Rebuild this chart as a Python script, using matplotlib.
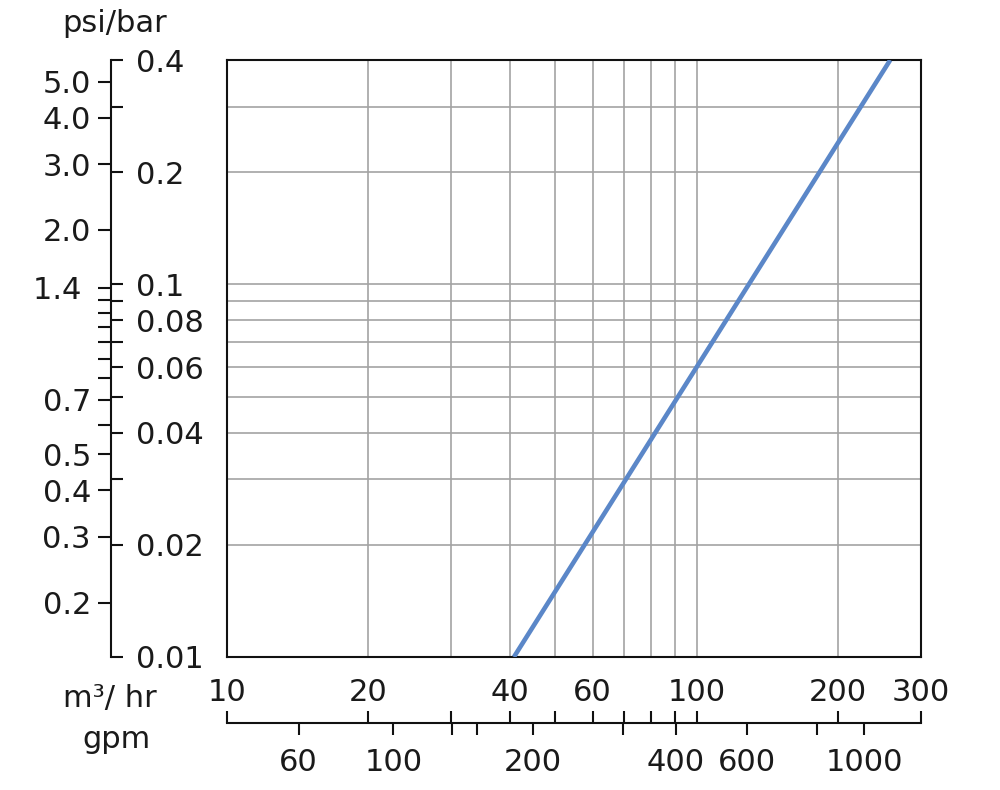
import matplotlib
matplotlib.use("Agg")
import matplotlib.pyplot as plt
from matplotlib.ticker import NullLocator

# ---- data ----
flow_m3hr = [40.8, 258.0]          # m3/hr
dp_bar = [0.01, 0.4]               # bar

grid_x = [20, 30, 40, 50, 60, 70, 80, 90, 100, 200]
grid_y = [0.02, 0.03, 0.04, 0.05, 0.06, 0.07, 0.08, 0.09, 0.1, 0.2, 0.3]

bar_ticks = [0.4, 0.3, 0.2, 0.1, 0.09, 0.08, 0.07, 0.06, 0.05, 0.04, 0.03, 0.02, 0.01]
bar_labels = ["0.4", "", "0.2", "0.1", "", "0.08", "", "0.06", "", "0.04", "", "0.02", "0.01"]

psi_per_bar_factor = 0.07  # bar per psi used in the chart
psi_ticks = [5.0, 4.0, 3.0, 2.0, 1.4, 1.3, 1.2, 1.1, 1.0, 0.9, 0.8, 0.7, 0.6, 0.5, 0.4, 0.3, 0.2]
psi_labels = ["5.0", "4.0", "3.0", "2.0", "1.4 ", "", "", "", "", "", "", "0.7", "", "0.5", "0.4", "0.3", "0.2"]

m3_ticks = [10, 20, 30, 40, 50, 60, 70, 80, 90, 100, 200, 300]
m3_labels = ["10", "20", "", "40", "", "60", "", "", "", "100", "200", "300"]

# gpm tick positions as read on the m3/hr scale
gpm_tick_pos = [14.2, 22.6, 30.1, 34.0, 44.8, 69.6, 90.2, 128.0, 180.0, 227.0]
gpm_labels = ["60", "100", "", "", "200", "", "400", "600", "", "1000"]

FS = 22
TXT = "#1a1a1a"
LW = 1.5
TL = 8.8
plt.rcParams['font.family'] = ['DejaVu Sans']

W, H = 1000, 790
fig = plt.figure(figsize=(10, 7.9), dpi=100)

left, right, top, bot = 227, 921, 60, 657
axb = 1 - bot / H
axh = (bot - top) / H
ax = fig.add_axes([left / W, axb, (right - left) / W, axh])
ax.set_xscale('log')
ax.set_yscale('log')
ax.set_xlim(10, 300)
ax.set_ylim(0.01, 0.4)
ax.set_xticks(grid_x)
ax.set_yticks(grid_y)
ax.xaxis.set_minor_locator(NullLocator())
ax.yaxis.set_minor_locator(NullLocator())
ax.set_xticklabels([])
ax.set_yticklabels([])
ax.tick_params(length=0)
ax.grid(True, which='major', color='#a3a3a3', lw=1.2)
for s in ax.spines.values():
    s.set_linewidth(LW)
    s.set_color('#111111')
ax.plot(flow_m3hr, dp_bar, color='#5b87c8', lw=3.3, solid_capstyle='butt', zorder=3)

# ---- left dual axis (bar / psi) ----
xl = 111 / W
ax_bar = fig.add_axes([xl, axb, 1e-5, axh])
ax_bar.set_yscale('log')
ax_bar.set_ylim(0.01, 0.4)
ax_bar.patch.set_visible(False)
ax_bar.xaxis.set_visible(False)
for k in ['top', 'bottom', 'right']:
    ax_bar.spines[k].set_visible(False)
ax_bar.spines['left'].set_linewidth(LW)
ax_bar.spines['left'].set_color('#111111')
ax_bar.yaxis.tick_right()
ax_bar.set_yticks(bar_ticks, bar_labels)
ax_bar.yaxis.set_minor_locator(NullLocator())
ax_bar.tick_params(axis='y', direction='out', length=TL, width=LW, pad=9,
                   labelsize=FS, colors='#111111', labelcolor=TXT)

ax_psi = fig.add_axes([xl, axb, 1e-5, axh])
ax_psi.set_yscale('log')
ax_psi.set_ylim(0.01 / psi_per_bar_factor, 0.4 / psi_per_bar_factor)
ax_psi.patch.set_visible(False)
ax_psi.xaxis.set_visible(False)
for s in ax_psi.spines.values():
    s.set_visible(False)
ax_psi.yaxis.tick_left()
ax_psi.set_yticks(psi_ticks, psi_labels)
ax_psi.yaxis.set_minor_locator(NullLocator())
ax_psi.tick_params(axis='y', direction='out', length=9.4, width=LW, pad=5,
                   labelsize=FS, colors='#111111', labelcolor=TXT)

# ---- bottom dual axis (m3/hr / gpm) ----
yb = 1 - 723 / H
ax_m3 = fig.add_axes([left / W, yb, (right - left) / W, 1e-5])
ax_m3.set_xscale('log')
ax_m3.set_xlim(10, 300)
ax_m3.patch.set_visible(False)
ax_m3.yaxis.set_visible(False)
for k in ['top', 'left', 'right']:
    ax_m3.spines[k].set_visible(False)
ax_m3.spines['bottom'].set_linewidth(LW)
ax_m3.spines['bottom'].set_color('#111111')
ax_m3.xaxis.tick_top()
ax_m3.set_xticks(m3_ticks, m3_labels)
ax_m3.xaxis.set_minor_locator(NullLocator())
ax_m3.tick_params(axis='x', direction='out', length=TL, width=LW, pad=3,
                  labelsize=FS, colors='#111111', labelcolor=TXT)

ax_gpm = fig.add_axes([left / W, yb, (right - left) / W, 1e-5])
ax_gpm.set_xscale('log')
ax_gpm.set_xlim(10, 300)
ax_gpm.patch.set_visible(False)
ax_gpm.yaxis.set_visible(False)
for s in ax_gpm.spines.values():
    s.set_visible(False)
ax_gpm.xaxis.tick_bottom()
ax_gpm.set_xticks(gpm_tick_pos, gpm_labels)
ax_gpm.xaxis.set_minor_locator(NullLocator())
ax_gpm.tick_params(axis='x', direction='out', length=TL, width=LW, pad=9,
                   labelsize=FS, colors='#111111', labelcolor=TXT)

# ---- axis titles ----
fig.text(115 / W, 1 - 24 / H, "psi/bar", ha='center', va='center', fontsize=FS, color=TXT)
fig.text(110 / W, 1 - 698 / H, "m³/ hr", ha='center', va='center', fontsize=FS, color=TXT)
fig.text(117 / W, 1 - 740 / H, "gpm", ha='center', va='center', fontsize=FS, color=TXT)

fig.savefig("out.png", dpi=100)
